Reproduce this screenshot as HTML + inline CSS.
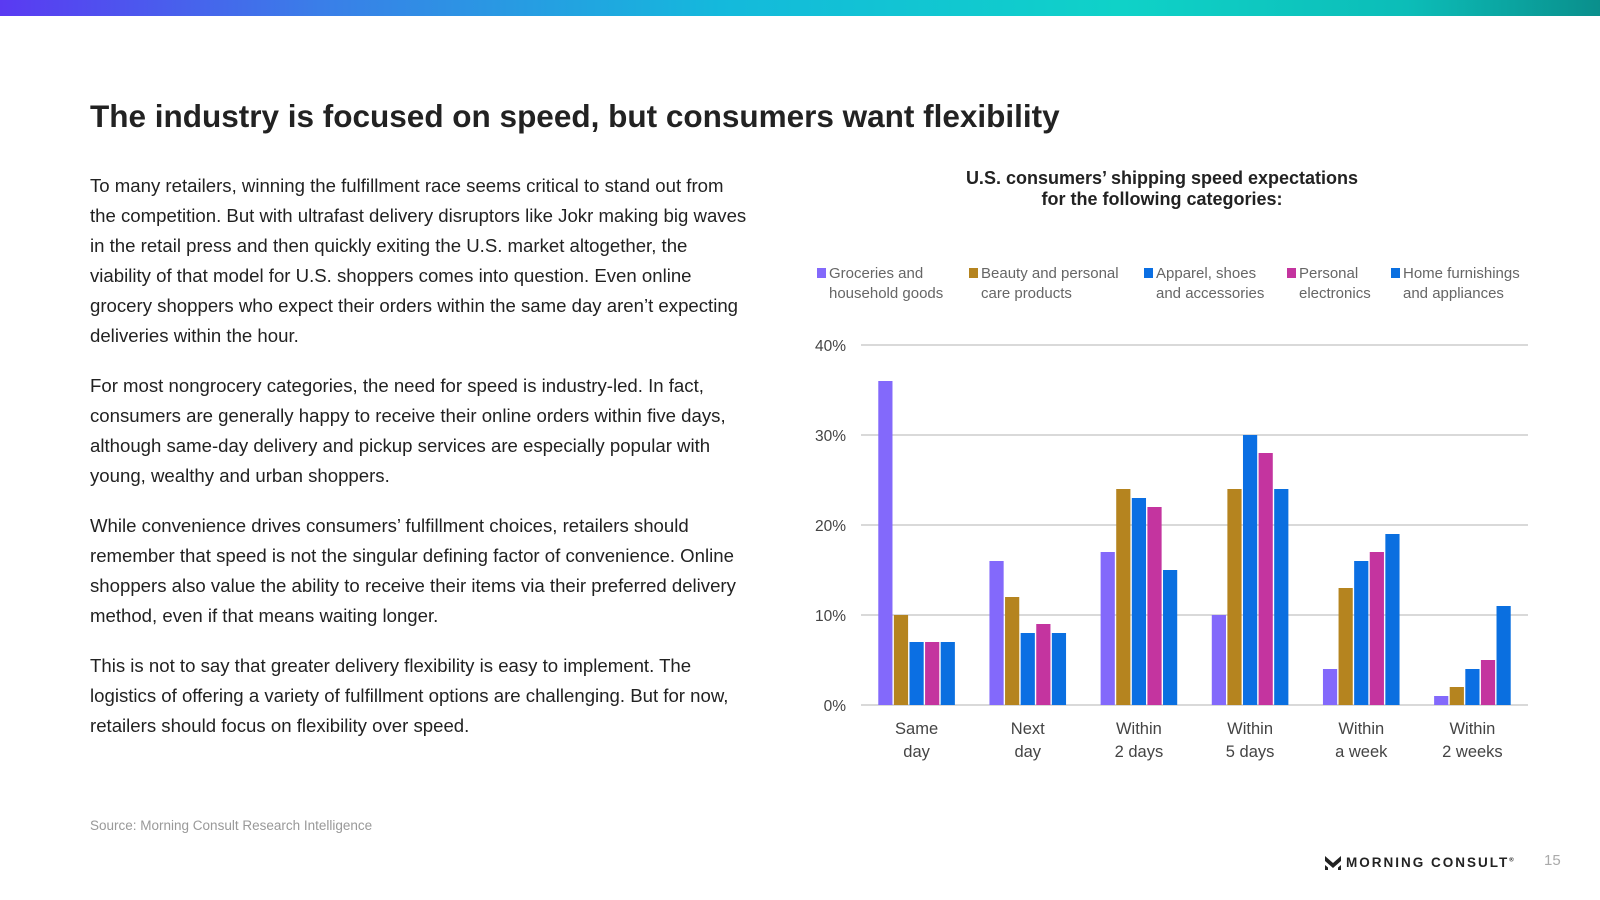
<!DOCTYPE html>
<html><head><meta charset="utf-8"><style>
body{margin:0;width:1600px;height:900px;background:#fff;position:relative;overflow:hidden;font-family:"Liberation Sans",sans-serif;color:#222}
.topbar{position:absolute;left:0;top:0;width:1600px;height:16px;background:linear-gradient(90deg,#5a3af2 0%,#3a7ee8 20%,#14b9dc 45%,#0fd2c8 70%,#0cbdb8 88%,#0a8f8c 100%)}
h1{position:absolute;left:90px;top:98px;margin:0;font-size:31.5px;font-weight:bold;color:#222;letter-spacing:0px}
.body{position:absolute;left:90px;top:171px;width:660px;font-size:18.6px;line-height:30px;color:#222}
.body p{margin:0 0 20px 0}
.source{position:absolute;left:90px;top:818px;font-size:13.5px;color:#999}
.logo{position:absolute;left:1346px;top:855px;font-size:13.5px;font-weight:bold;letter-spacing:2px;color:#222}
.pnum{position:absolute;left:1544px;top:852px;font-size:15px;color:#aaa}
</style></head><body>
<div class="topbar"></div>
<h1>The industry is focused on speed, but consumers want flexibility</h1>
<div class="body">
<p>To many retailers, winning the fulfillment race seems critical to stand out from the competition. But with ultrafast delivery disruptors like Jokr making big waves in the retail press and then quickly exiting the U.S. market altogether, the viability of that model for U.S. shoppers comes into question. Even online grocery shoppers who expect their orders within the same day aren’t expecting deliveries within the hour.</p>
<p>For most nongrocery categories, the need for speed is industry-led. In fact, consumers are generally happy to receive their online orders within five days, although same-day delivery and pickup services are especially popular with young, wealthy and urban shoppers.</p>
<p>While convenience drives consumers’ fulfillment choices, retailers should remember that speed is not the singular defining factor of convenience. Online shoppers also value the ability to receive their items via their preferred delivery method, even if that means waiting longer.</p>
<p>This is not to say that greater delivery flexibility is easy to implement. The logistics of offering a variety of fulfillment options are challenging. But for now, retailers should focus on flexibility over speed.</p>
</div>
<div class="source">Source: Morning Consult Research Intelligence</div>
<div class="logo"><svg width="16" height="14" style="position:absolute;left:-21px;top:1px" viewBox="0 0 16 14"><path d="M0 0L8 7L16 0V5L8 12L0 5Z M0 9L3 11.5V14H0Z M16 9L13 11.5V14H16Z" fill="#222"/></svg>MORNING CONSULT<sup style="font-size:6px">®</sup></div>
<div class="pnum">15</div>
<svg id="chart" width="1600" height="900" style="position:absolute;left:0;top:0"></svg>
<script>
const categories=[["Same","day"],["Next","day"],["Within","2 days"],["Within","5 days"],["Within","a week"],["Within","2 weeks"]];
const seriesNames=[["Groceries and","household goods"],["Beauty and personal","care products"],["Apparel, shoes","and accessories"],["Personal","electronics"],["Home furnishings","and appliances"]];
const groceries=[36,16,17,10,4,1];
const beauty=[10,12,24,24,13,2];
const apparel=[7,8,23,30,16,4];
const electronics=[7,9,22,28,17,5];
const home=[7,8,15,24,19,11];
const yTicks=[0,10,20,30,40];
const yTickLabels=["0%","10%","20%","30%","40%"];
const series=[groceries,beauty,apparel,electronics,home];
const colors=["#8369fb","#b5841f","#0b6fe3","#c4349f","#0a6fe0"];
const svg=document.getElementById('chart');
const NS="http://www.w3.org/2000/svg";
const X0=861,X1=1528,Y0=705,Y1=345;
const y=v=>Y0-(v/40)*(Y0-Y1);
const band=(X1-X0)/categories.length;
const xc=i=>X0+band*(i+0.5);
const bw=14.2,bp=15.6;
function mk(t,a,txt){const e=document.createElementNS(NS,t);for(const k in a)e.setAttribute(k,a[k]);if(txt!==undefined)e.textContent=txt;svg.appendChild(e);return e;}
const f='"Liberation Sans",sans-serif';
let t=mk('text',{x:1162,y:184,'text-anchor':'middle','font-size':18,'font-weight':'bold','font-family':f,fill:'#222'},'U.S. consumers’ shipping speed expectations');


t=mk('text',{x:1162,y:205,'text-anchor':'middle','font-size':18,'font-weight':'bold','font-family':f,fill:'#222'},'for the following categories:');


yTicks.forEach((v,i)=>{
 const l=mk('line',{x1:X0,x2:X1,y1:y(v),y2:y(v),stroke:'#d9d9d9','stroke-width':2});
 
 
 const tx=mk('text',{x:846,y:y(v)+6,'text-anchor':'end','font-size':15.5,'font-family':f,fill:'#444'},yTickLabels[i]);
 
 
});
categories.forEach((c,i)=>{
 series.forEach((s,j)=>{
  const x=xc(i)+(j-2)*bp-bw/2;
  const r=mk('rect',{x:x,y:y(s[i]),width:bw,height:Y0-y(s[i]),fill:colors[j]});
  
  
 });
 c.forEach((ln,k)=>{
  const tx=mk('text',{x:xc(i),y:734+k*23,'text-anchor':'middle','font-size':16.5,'font-family':f,fill:'#444'},ln);
  
  
 });
});
const legX=[817,969,1144,1287,1391];
seriesNames.forEach((n,j)=>{
 const r=mk('rect',{x:legX[j],y:268,width:9,height:10,fill:colors[j]});
 
 
 n.forEach((ln,k)=>{
  const tx=mk('text',{x:legX[j]+12,y:278+k*20,'font-size':15,'font-family':f,fill:'#666'},ln);
  
  
 });
});
</script>
</body></html>
